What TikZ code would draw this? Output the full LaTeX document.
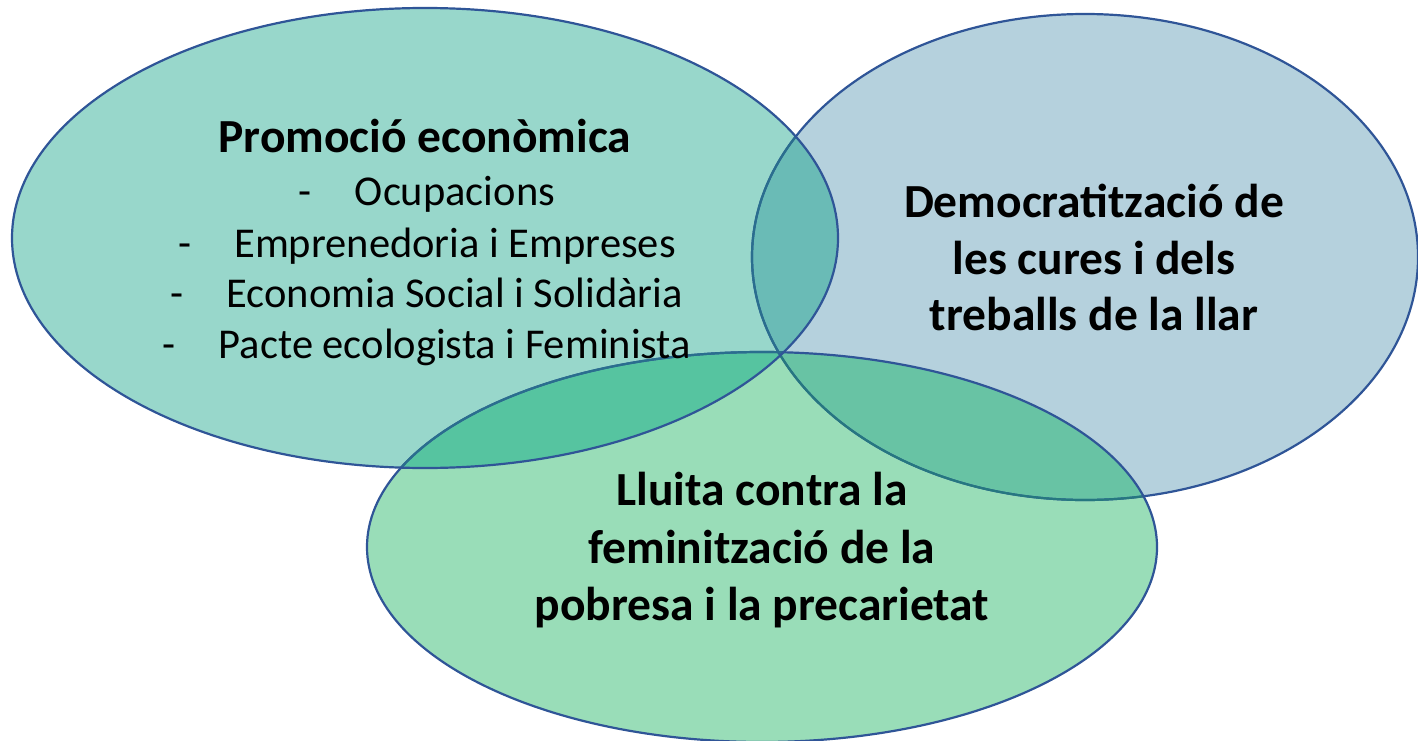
\documentclass[tikz,border=0pt]{standalone}
\usepackage{fontspec}
\setmainfont{Carlito}
\definecolor{cL}{HTML}{98D7CB}
\definecolor{cR}{HTML}{B5D1DD}
\definecolor{cB}{HTML}{99DDB8}
\definecolor{cLR}{HTML}{6ABBB6}
\definecolor{cLB}{HTML}{56C4A0}
\definecolor{cRB}{HTML}{68C3A4}
\definecolor{cLRB}{HTML}{55BFA0}
\definecolor{edge}{HTML}{2F5597}
\definecolor{edgeL}{HTML}{2A6E8E}
\definecolor{edgeB}{HTML}{267780}
\begin{document}
\begin{tikzpicture}[x=1bp,y=-1bp,
  outline/.style={line width=2.2bp},
  boldtxt/.style={anchor=base,inner sep=0pt,font=\fontsize{47.5bp}{56bp}\selectfont\bfseries},
  titletxt/.style={anchor=base,inner sep=0pt,font=\fontsize{47.5bp}{56bp}\selectfont\bfseries},
  itemtxt/.style={anchor=base,inner sep=0pt,font=\fontsize{42.5bp}{50bp}\selectfont}]
\useasboundingbox (0,0) rectangle (1418,740);
\def\ellL{(425,238) ellipse [x radius=413bp, y radius=230bp]}
\def\ellR{(1085,257) ellipse [x radius=333bp, y radius=243bp]}
\def\ellB{(762,547) ellipse [x radius=395bp, y radius=195bp]}
% fills
\fill[cR] \ellR;
\fill[cB] \ellB;
\fill[cL] \ellL;
\begin{scope}\clip \ellR; \fill[cRB] \ellB;\end{scope}
\begin{scope}\clip \ellL; \fill[cLR] \ellR; \fill[cLB] \ellB; \clip \ellR; \fill[cLRB] \ellB;\end{scope}
% outlines
\draw[outline,edge] \ellR;
\begin{scope}\clip \ellB; \draw[outline,edgeB] \ellR;\end{scope}
\begin{scope}\clip \ellL; \draw[outline,edgeL] \ellR;\end{scope}
\draw[outline,edge] \ellB;
\begin{scope}\clip \ellL; \draw[outline,edgeL] \ellB;\end{scope}
\draw[outline,edge] \ellL;
% texts
\node[titletxt] (t0) at (425,152) {Promoció econòmica};
\node[itemtxt] (t1) at (427,205) {\makebox[56bp][l]{-}Ocupacions};
\node[itemtxt] (t2) at (427,257) {\makebox[56bp][l]{-}Emprenedoria i Empreses};
\node[itemtxt] (t3) at (427,307) {\makebox[56bp][l]{-}Economia Social i Solidària};
\node[itemtxt] (t4) at (427,358) {\makebox[56bp][l]{-}Pacte ecologista i Feminista};
\node[boldtxt] (r1) at (1094,217) {Democratització de};
\node[boldtxt] (r2) at (1094,274) {les cures i dels};
\node[boldtxt] (r3) at (1094,330) {treballs de la llar};
\node[boldtxt] (b1) at (762,505) {Lluita contra la};
\node[boldtxt] (b2) at (762,563) {feminització de la};
\node[boldtxt] (b3) at (762,620) {pobresa i la precarietat};
\end{tikzpicture}
\end{document}
